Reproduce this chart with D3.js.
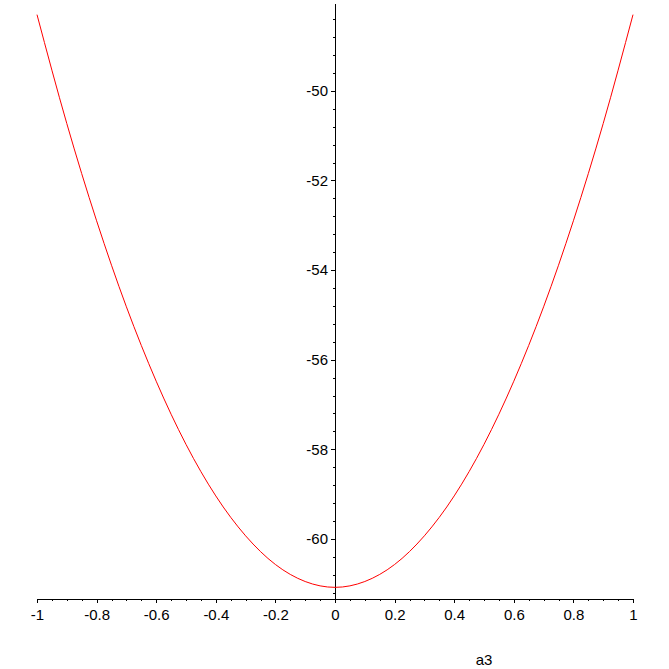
<!DOCTYPE html>
<html>
<head>
<meta charset="utf-8">
<script src="https://cdn.jsdelivr.net/npm/d3@7"></script>
<style>
  body { margin: 0; background: #fff; }
  .axis path, .axis line { stroke: #000; shape-rendering: crispEdges; }
  .axis text { font: 15px "Liberation Sans", Arial, sans-serif; fill: #000; }
</style>
</head>
<body>
<svg id="chart" width="669" height="669"></svg>
<script>
// values
var a3 = [-1, -0.9, -0.8, -0.7, -0.6, -0.5, -0.4, -0.3, -0.2, -0.1, 0,
          0.1, 0.2, 0.3, 0.4, 0.5, 0.6, 0.7, 0.8, 0.9, 1];
var fval = [-48.3, -50.73, -52.9, -54.82, -56.48, -57.89, -59.04, -59.93, -60.57, -60.95, -61.08,
            -60.95, -60.57, -59.93, -59.04, -57.89, -56.48, -54.82, -52.9, -50.73, -48.3];
var xTicks = [-1, -0.8, -0.6, -0.4, -0.2, 0, 0.2, 0.4, 0.6, 0.8, 1];
var yTicks = [-60, -58, -56, -54, -52, -50];
var xLabel = "a3";

var svg = d3.select("#chart");

var x = d3.scaleLinear().domain([-1, 1]).range([37, 633]);
var y = d3.scaleLinear().domain([-61.34, -48.04]).range([599, 3]);

var xMinor = d3.range(-20, 21).map(function (i) { return i * 0.05; });
var yMinor = d3.range(-153, -119).map(function (i) { return i * 0.4; })
  .filter(function (v) { return v >= -61.34 && v <= -48.04; });

// plain hyphen minus, like the original
var fmt = function (d) { return String(+d.toFixed(1)); };

// x axis
svg.append("g")
  .attr("class", "axis")
  .attr("transform", "translate(0," + y(-61.34) + ")")
  .call(d3.axisBottom(x).tickValues(xMinor).tickSize(2).tickSizeOuter(0).tickFormat(""));

svg.append("g")
  .attr("class", "axis")
  .attr("transform", "translate(0," + y(-61.34) + ")")
  .call(d3.axisBottom(x).tickValues(xTicks).tickSize(4).tickSizeOuter(0).tickPadding(6)
    .tickFormat(fmt))
  .call(function (g) { g.select(".domain").remove(); });

// y axis through x = 0
svg.append("g")
  .attr("class", "axis")
  .attr("transform", "translate(" + x(0) + ",0)")
  .call(d3.axisLeft(y).tickValues(yMinor).tickSize(2).tickSizeOuter(0).tickFormat(""));

svg.append("g")
  .attr("class", "axis")
  .attr("transform", "translate(" + x(0) + ",0)")
  .call(d3.axisLeft(y).tickValues(yTicks).tickSize(4).tickSizeOuter(0).tickPadding(3)
    .tickFormat(fmt))
  .call(function (g) { g.select(".domain").remove(); });

svg.append("text")
  .attr("x", 484)
  .attr("y", 665)
  .attr("text-anchor", "middle")
  .style("font", "15px 'Liberation Sans', Arial, sans-serif")
  .text(xLabel);

// curve
var line = d3.line()
  .x(function (d, i) { return x(a3[i]); })
  .y(function (d) { return y(d); })
  .curve(d3.curveMonotoneX);

svg.append("path")
  .datum(fval)
  .attr("d", line)
  .attr("fill", "none")
  .attr("stroke", "#ff0000")
  .attr("stroke-width", 1);
</script>
</body>
</html>
